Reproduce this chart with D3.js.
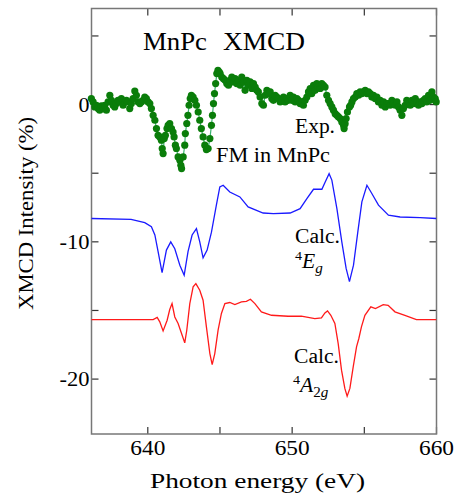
<!DOCTYPE html>
<html>
<head>
<meta charset="utf-8">
<script src="https://cdn.jsdelivr.net/npm/d3@7"></script>
<style>
  body { margin: 0; background: #fff; }
  svg text { font-family: "Liberation Serif", "Times New Roman", serif; fill: #000; }
</style>
</head>
<body>
<div id="chart"></div>
<script>
// experimental XMCD (photon energy eV, intensity %)
const expData = [
  [636.09,0.44],[636.21,0.19],[636.33,-0.17],[636.44,-0.05],[636.56,-0.29],[636.67,-0.41],[636.79,-0.1],
  [636.9,-0.29],[637.02,-0.05],[637.13,-0.41],[637.25,0.19],[637.37,0.68],[637.48,0.31],[637.6,-0.05],
  [637.71,-0.17],[637.82,0.07],[637.94,0.31],[638.06,0.19],[638.17,0.44],[638.29,-0.05],[638.41,0.19],
  [638.52,0.31],[638.63,0.19],[638.75,-0.29],[638.86,0.07],[638.98,0.44],[639.1,0.99],[639.21,0.68],
  [639.33,0.19],[639.45,0.07],[639.56,0.19],[639.67,0.31],[639.79,0.55],[639.9,0.44],[640.02,0.19],
  [640.14,0.07],[640.25,-0.29],[640.37,-0.78],[640.49,-1.14],[640.6,-1.75],[640.71,-2.24],[640.83,-2.36],
  [640.94,-2.6],[641.0,-3.2],[641.06,-3.57],[641.14,-2.48],[641.22,-2.24],[641.33,-1.75],[641.41,-1.51],
  [641.52,-1.38],[641.64,-1.75],[641.75,-2.0],[641.82,-2.36],[641.91,-2.96],[641.98,-3.2],[642.1,-3.81],
  [642.22,-4.06],[642.29,-4.42],[642.34,-4.66],[642.45,-3.81],[642.56,-2.96],[642.6,-2.11],[642.7,-1.38],
  [642.78,-0.78],[642.86,-0.05],[642.94,0.44],[643.02,0.68],[643.14,0.55],[643.26,0.31],[643.37,-0.05],
  [643.49,-0.54],[643.6,-1.14],[643.71,-1.75],[643.83,-2.36],[643.95,-2.96],[644.06,-3.28],[644.18,-3.2],
  [644.3,-2.48],[644.41,-1.51],[644.48,-0.78],[644.55,0.07],[644.62,0.8],[644.7,1.53],[644.78,2.26],
  [644.86,2.5],[644.95,2.37],[645.01,2.26],[645.12,2.01],[645.24,1.89],[645.36,1.77],[645.47,1.53],
  [645.59,1.41],[645.7,1.77],[645.82,2.01],[645.94,1.65],[646.05,1.89],[646.16,1.53],[646.28,1.77],
  [646.4,1.41],[646.51,2.01],[646.63,1.65],[646.74,1.04],[646.86,1.77],[646.97,1.41],[647.09,1.65],
  [647.21,1.17],[647.32,1.53],[647.44,1.28],[647.55,1.04],[647.66,0.92],[647.78,0.55],[647.9,0.07],
  [648.01,-0.05],[648.13,0.68],[648.25,1.04],[648.36,0.8],[648.48,0.92],[648.59,0.44],[648.7,0.31],
  [648.82,0.68],[648.94,0.55],[649.05,0.44],[649.17,0.19],[649.28,0.31],[649.4,0.55],[649.51,0.19],
  [649.63,0.44],[649.74,0.31],[649.86,0.68],[649.98,0.31],[650.09,0.55],[650.21,0.19],[650.33,0.44],
  [650.44,0.31],[650.55,0.07],[650.67,0.19],[650.78,-0.05],[650.9,0.31],[651.02,0.55],[651.13,0.92],
  [651.25,1.17],[651.36,0.8],[651.48,1.41],[651.59,1.04],[651.71,1.53],[651.82,1.28],[651.94,1.17],
  [652.05,1.53],[652.17,1.41],[652.28,1.28],[652.4,0.68],[652.52,0.31],[652.63,0.07],[652.75,-0.17],
  [652.86,-0.41],[652.98,-0.66],[653.1,-0.78],[653.21,-0.9],[653.33,-1.02],[653.44,-1.27],[653.56,-1.51],
  [653.6,-1.75],[653.67,-1.4],[653.74,-1.02],[653.83,-0.54],[653.97,-0.17],[654.05,-0.05],[654.14,0.19],
  [654.25,0.44],[654.37,0.55],[654.48,0.8],[654.6,0.68],[654.71,0.92],[654.83,0.8],[654.94,0.92],
  [655.06,1.04],[655.18,0.8],[655.29,0.92],[655.41,0.8],[655.52,0.55],[655.63,0.68],[655.75,0.44],
  [655.87,0.55],[655.98,0.19],[656.1,0.31],[656.22,-0.05],[656.33,0.19],[656.45,-0.17],[656.56,0.07],
  [656.67,0.07],[656.79,-0.05],[656.91,0.31],[657.02,0.07],[657.14,-0.05],[657.26,0.19],[657.37,-0.17],
  [657.48,-0.41],[657.6,-0.78],[657.71,-0.29],[657.83,-0.05],[657.94,0.31],[658.06,0.19],[658.18,-0.05],
  [658.3,0.31],[658.41,0.07],[658.53,0.44],[658.64,0.19],[658.75,-0.05],[658.87,0.19],[658.99,0.07],
  [659.1,0.31],[659.22,0.44],[659.33,0.19],[659.45,0.68],[659.56,0.31],[659.68,0.92],[659.79,0.55],
  [659.91,0.44],[659.98,0.19]
];

// calculated 4Eg (offset)
const calcEg = [
  [636.1,-8.3],[638.84,-8.37],[639.79,-8.6],[640.25,-8.9],[640.49,-9.5],[640.71,-10.7],[640.99,-12.24],
  [641.29,-10.6],[641.59,-10.0],[641.87,-10.5],[642.22,-11.7],[642.52,-12.43],[642.79,-10.7],[643.07,-9.5],
  [643.37,-9.03],[643.6,-10.0],[643.83,-11.17],[644.11,-10.6],[644.41,-9.3],[644.75,-7.33],[644.99,-6.0],
  [645.22,-5.88],[645.68,-6.37],[646.38,-6.73],[646.95,-7.46],[647.99,-7.9],[648.7,-7.94],[649.86,-7.9],
  [650.55,-7.58],[651.02,-6.85],[651.48,-6.17],[652.06,-6.17],[652.29,-5.64],[652.56,-5.03],[652.75,-5.5],
  [653.1,-7.58],[653.44,-10.0],[653.74,-11.94],[653.97,-12.9],[654.25,-11.7],[654.55,-9.28],[654.83,-7.09],
  [655.18,-5.88],[655.52,-6.48],[655.98,-7.33],[656.67,-8.06],[657.48,-8.19],[658.87,-8.23],[659.98,-8.3]
];

// calculated 4A2g (offset)
const calcA2g = [
  [636.1,-15.66],[640.37,-15.66],[640.65,-15.51],[640.83,-15.83],[641.06,-16.49],[641.34,-15.71],[641.52,-14.93],
  [641.68,-14.5],[641.87,-15.47],[642.1,-15.95],[642.38,-16.8],[642.56,-17.36],[642.7,-16.44],[642.91,-14.5],
  [643.14,-13.28],[643.33,-13.04],[643.6,-13.53],[643.83,-14.25],[644.06,-16.2],[644.3,-18.14],[644.46,-18.94],
  [644.64,-18.14],[644.87,-16.44],[645.1,-15.22],[645.34,-14.5],[645.68,-14.42],[646.03,-14.57],[646.49,-14.38],
  [646.83,-14.33],[647.11,-14.18],[647.42,-14.5],[647.87,-15.1],[648.57,-15.35],[649.72,-15.42],[650.64,-15.42],
  [651.57,-15.59],[652.03,-15.54],[652.27,-15.18],[652.45,-15.03],[652.68,-15.35],[652.96,-15.95],[653.19,-17.41],
  [653.42,-19.35],[653.65,-20.68],[653.81,-21.25],[654.0,-20.68],[654.23,-19.11],[654.46,-17.65],[654.62,-17.04],
  [654.8,-16.2],[655.04,-15.35],[655.45,-14.74],[655.77,-14.86],[656.31,-14.57],[656.65,-14.62],[657.12,-15.1],
  [657.81,-15.35],[658.61,-15.66],[659.98,-15.66]
];

const xTicks = [640, 650, 660];
const xMinor = [640, 645, 650, 655, 660];
const yTicks = [0, -10, -20];
const yMinor = [5, 0, -5, -10, -15, -20];

const W = 456, H = 497;
const m = { left: 91.5, right: 436.5, top: 8.5, bottom: 434 };

const svg = d3.select("#chart").append("svg")
  .attr("width", W).attr("height", H);

const x = d3.scaleLinear().domain([636.1, 660]).range([m.left, m.right]);
const y = d3.scaleLinear().domain([7, -24]).range([m.top, m.bottom]);

// ticks, inward
const tickLen = 7;
const tg = svg.append("g").attr("stroke", "#333").attr("stroke-width", 1.2);
xMinor.forEach(v => {
  tg.append("line").attr("x1", x(v)).attr("x2", x(v)).attr("y1", m.bottom).attr("y2", m.bottom - tickLen);
  tg.append("line").attr("x1", x(v)).attr("x2", x(v)).attr("y1", m.top).attr("y2", m.top + tickLen);
});
yMinor.forEach(v => {
  tg.append("line").attr("y1", y(v)).attr("y2", y(v)).attr("x1", m.left).attr("x2", m.left + tickLen);
  tg.append("line").attr("y1", y(v)).attr("y2", y(v)).attr("x1", m.right).attr("x2", m.right - tickLen);
});

// frame
svg.append("rect")
  .attr("x", m.left).attr("y", m.top)
  .attr("width", m.right - m.left).attr("height", m.bottom - m.top)
  .attr("fill", "none").attr("stroke", "#777").attr("stroke-width", 1.5);

// serif text fitted to the width measured on the picture
function label(txt, px, py, size, anchor, len) {
  const t = svg.append("text")
    .attr("x", px).attr("y", py)
    .attr("font-size", size)
    .attr("text-anchor", anchor || "start")
    .text(txt);
  if (len) t.attr("textLength", len).attr("lengthAdjust", "spacingAndGlyphs");
  return t;
}

xTicks.forEach(v => label(v, x(v), 455, 20, "middle", 35));
yTicks.forEach(v => label(v, m.left - 2, y(v) + 7, 20, "end", v === 0 ? 11 : 30));

label("Photon energy (eV)", 257.5, 488, 22, "middle", 215);
svg.append("text")
  .attr("transform", "translate(33,213.5) rotate(-90)")
  .attr("font-size", 22)
  .attr("text-anchor", "middle")
  .attr("textLength", 193).attr("lengthAdjust", "spacingAndGlyphs")
  .text("XMCD Intensity (%)");

label("MnPc", 143, 50, 25, "start", 64);
label("XMCD", 223, 50, 25, "start", 82);
label("Exp.", 295, 133, 20, "start", 40);
label("FM in MnPc", 216, 162, 20, "start", 114);
label("Calc.", 295, 243, 20, "start", 45);
label("Calc.", 294, 363, 20, "start", 45);

// 4Eg and 4A2g with super/subscripts
const eg = svg.append("text").attr("transform", "translate(295,268) scale(1.08,1)").attr("font-size", 20);
eg.append("tspan").attr("font-size", 13).attr("dy", -8).text("4");
eg.append("tspan").attr("font-style", "italic").attr("dy", 8).text("E");
eg.append("tspan").attr("font-style", "italic").attr("font-size", 14).attr("dy", 5).text("g");

const a2g = svg.append("text").attr("transform", "translate(293,392) scale(1.08,1)").attr("font-size", 20);
a2g.append("tspan").attr("font-size", 13).attr("dy", -8).text("4");
a2g.append("tspan").attr("font-style", "italic").attr("dy", 8).text("A");
a2g.append("tspan").attr("font-size", 14).attr("dy", 5).text("2");
a2g.append("tspan").attr("font-style", "italic").attr("font-size", 14).text("g");

const line = d3.line().x(d => x(d[0])).y(d => y(d[1]));

svg.append("path").datum(calcEg).attr("d", line)
  .attr("fill", "none").attr("stroke", "#1a1aff").attr("stroke-width", 1.3);
svg.append("path").datum(calcA2g).attr("d", line)
  .attr("fill", "none").attr("stroke", "#ff1a1a").attr("stroke-width", 1.3);

svg.append("path").datum(expData).attr("d", line)
  .attr("fill", "none").attr("stroke", "#3cb371").attr("stroke-width", 1.2);
svg.append("g").selectAll("circle").data(expData).join("circle")
  .attr("cx", d => x(d[0])).attr("cy", d => y(d[1])).attr("r", 3.6)
  .attr("fill", "#0a7d0a");
</script>
</body>
</html>
